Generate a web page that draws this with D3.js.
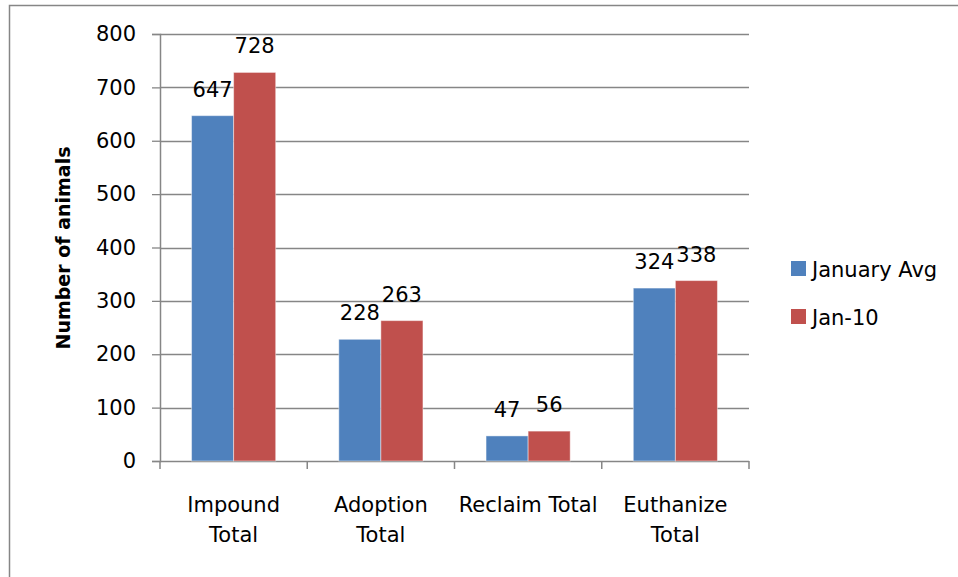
<!DOCTYPE html>
<html>
<head>
<meta charset="utf-8">
<script src="https://cdn.jsdelivr.net/npm/d3@7"></script>
<style>
  body { margin: 0; background: #fff; }
  text { font-family: "DejaVu Sans", sans-serif; fill: #000; }
</style>
</head>
<body>
<div class="chart"></div>
<script>
var categories = [["Impound", "Total"], ["Adoption", "Total"], ["Reclaim Total"], ["Euthanize", "Total"]];
var seriesNames = ["January Avg", "Jan-10"];
var januaryAvg = [647, 228, 47, 324];
var jan10 = [728, 263, 56, 338];
var yTicks = [0, 100, 200, 300, 400, 500, 600, 700, 800];
var colors = ["#4F81BD", "#C0504D"];

var W = 958, H = 577;
var svg = d3.select('.chart').append('svg')
  .attr('width', W).attr('height', H);

// chart frame
svg.append('rect')
  .attr('x', 9.5).attr('y', 5.5)
  .attr('width', 960).attr('height', 600)
  .attr('fill', 'none').attr('stroke', '#868686').attr('stroke-width', 1.5);

var plotLeft = 160, plotRight = 749, plotTop = 34, plotBottom = 461;

var y = d3.scaleLinear().domain([0, 800]).range([plotBottom, plotTop]);
var x0 = d3.scaleBand().domain(d3.range(categories.length)).range([plotLeft, plotRight]);
var x1 = d3.scaleBand().domain(seriesNames).range([0, x0.bandwidth()]).paddingOuter(0.75);

// gridlines
svg.append('g').selectAll('line')
  .data(yTicks.slice(1))
  .join('line')
  .attr('x1', plotLeft).attr('x2', plotRight)
  .attr('y1', function(d){ return Math.round(y(d)) + 0.5; })
  .attr('y2', function(d){ return Math.round(y(d)) + 0.5; })
  .attr('stroke', '#868686').attr('stroke-width', 1.3);

// y axis
var yAxis = svg.append('g')
  .attr('transform', 'translate(' + plotLeft + ',0)')
  .call(d3.axisLeft(y).tickValues(yTicks).tickSize(8).tickPadding(16));
yAxis.select('.domain').attr('stroke', '#868686').attr('stroke-width', 1.5);
yAxis.selectAll('.tick line').attr('stroke', '#868686').attr('stroke-width', 1.3);
yAxis.selectAll('text').style('font-size', '21px').style('font-family', '"DejaVu Sans", sans-serif');

// x axis
var xTickPos = d3.range(categories.length + 1).map(function(i){ return plotLeft + i * x0.step(); });
svg.append('line')
  .attr('x1', plotLeft).attr('x2', plotRight)
  .attr('y1', plotBottom + 0.5).attr('y2', plotBottom + 0.5)
  .attr('stroke', '#868686').attr('stroke-width', 1.5);
svg.append('g').selectAll('line')
  .data(xTickPos)
  .join('line')
  .attr('x1', function(d){ return d; }).attr('x2', function(d){ return d; })
  .attr('y1', plotBottom).attr('y2', plotBottom + 8)
  .attr('stroke', '#868686').attr('stroke-width', 1.5);

// category labels
var catG = svg.append('g').selectAll('text')
  .data(categories)
  .join('text')
  .attr('text-anchor', 'middle')
  .style('font-size', '21px')
  .attr('x', function(d, i){ return x0(i) + x0.bandwidth() / 2; })
  .attr('y', 512);
catG.selectAll('tspan')
  .data(function(d){ return d; })
  .join('tspan')
  .attr('x', function(){ return d3.select(this.parentNode).attr('x'); })
  .attr('dy', function(d, i){ return i === 0 ? 0 : 30; })
  .text(function(d){ return d; });

// bars
var series = [januaryAvg, jan10];
var groups = svg.append('g').selectAll('g')
  .data(series)
  .join('g')
  .attr('fill', function(d, i){ return colors[i]; });

groups.selectAll('rect')
  .data(function(d, si){ return d.map(function(v, ci){ return {v: v, ci: ci, s: seriesNames[si]}; }); })
  .join('rect')
  .attr('x', function(d){ return x0(d.ci) + x1(d.s); })
  .attr('width', x1.bandwidth())
  .attr('y', function(d){ return y(d.v); })
  .attr('height', function(d){ return plotBottom - y(d.v); })
  .attr('stroke', 'rgba(255,255,255,0.45)').attr('stroke-width', 1);

// value labels
groups.selectAll('text')
  .data(function(d, si){ return d.map(function(v, ci){ return {v: v, ci: ci, s: seriesNames[si]}; }); })
  .join('text')
  .attr('text-anchor', 'middle')
  .style('font-size', '21px')
  .style('fill', '#000')
  .attr('x', function(d){ return x0(d.ci) + x1(d.s) + x1.bandwidth() / 2; })
  .attr('y', function(d){ return y(d.v) - 19; })
  .text(function(d){ return d.v; });

// y title
svg.append('text')
  .attr('transform', 'translate(70,248) rotate(-90)')
  .attr('text-anchor', 'middle')
  .style('font-size', '19px')
  .style('font-weight', 'bold')
  .text('Number of animals');

// legend
var legend = svg.append('g').selectAll('g')
  .data(seriesNames)
  .join('g')
  .attr('transform', function(d, i){ return 'translate(791,' + (261 + i * 48) + ')'; });
legend.append('rect')
  .attr('width', 15).attr('height', 15)
  .attr('fill', function(d, i){ return colors[i]; });
legend.append('text')
  .attr('x', 21).attr('y', 16)
  .style('font-size', '21px')
  .text(function(d){ return d; });
</script>
</body>
</html>
